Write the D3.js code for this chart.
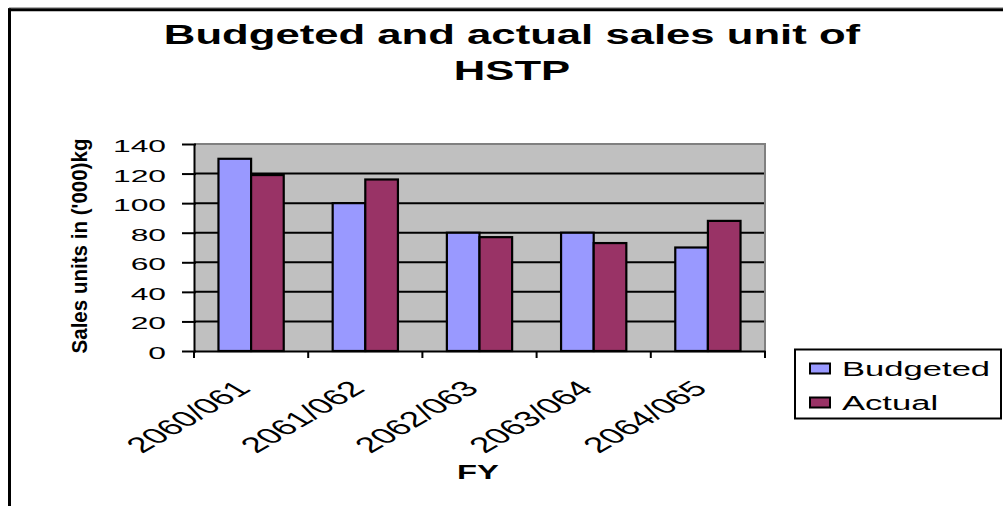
<!DOCTYPE html>
<html>
<head>
<meta charset="utf-8">
<script src="https://cdn.jsdelivr.net/npm/d3@7"></script>
<style>
  body { margin: 0; background: #ffffff; }
  svg { display: block; }
  text { font-family: "Liberation Sans", Arial, sans-serif; fill: #000; }
</style>
</head>
<body>
<svg id="chart" width="1003" height="506"></svg>
<script>
// Fiscal years and sales units ('000 kg)
const categories = ["2060/061", "2061/062", "2062/063", "2063/064", "2064/065"];
const budgeted = [130, 100, 80, 80, 70];
const actual = [119, 116, 77, 73, 88];
const seriesNames = ["Budgeted", "Actual"];
const seriesColors = ["#9999FF", "#993366"];
const yTicks = [0, 20, 40, 60, 80, 100, 120, 140];
const titleLines = ["Budgeted and actual sales unit of", "HSTP"];
const yTitle = "Sales units in ('000)kg";
const xTitle = "FY";

const svg = d3.select("#chart");

// plot frame
const plot = { left: 194, right: 765, top: 144, bottom: 351 };

const x = d3.scaleBand().domain(categories).range([plot.left, plot.right]).paddingInner(0).paddingOuter(0);
const xs = d3.scaleBand().domain(seriesNames).range([0, x.bandwidth()]).paddingInner(0).paddingOuter(0.75);
const y = d3.scaleLinear().domain([0, 140]).range([plot.bottom, plot.top]);
const color = d3.scaleOrdinal().domain(seriesNames).range(seriesColors);

// outer chart border (top and left edges)
svg.append("line").attr("x1", 9).attr("x2", 1003).attr("y1", 7.5).attr("y2", 7.5)
  .attr("stroke", "#b0b0b0").attr("stroke-width", 1);
svg.append("line").attr("x1", 8).attr("x2", 1003).attr("y1", 9.8).attr("y2", 9.8)
  .attr("stroke", "#000").attr("stroke-width", 3);
svg.append("line").attr("x1", 9.5).attr("x2", 9.5).attr("y1", 8.5).attr("y2", 506)
  .attr("stroke", "#000").attr("stroke-width", 3);

// title
const title = svg.append("g").attr("transform", "translate(512,0)");
title.selectAll("text").data(titleLines).join("text")
  .attr("transform", (d, i) => `translate(0,${44 + i * 36}) scale(1.56,1)`)
  .attr("text-anchor", "middle")
  .attr("font-size", 28)
  .attr("font-weight", "bold")
  .text(d => d);

// plot background
svg.append("rect")
  .attr("x", plot.left).attr("y", plot.top)
  .attr("width", plot.right - plot.left).attr("height", plot.bottom - plot.top)
  .attr("fill", "#C0C0C0");

// horizontal gridlines
svg.append("g").selectAll("line")
  .data(yTicks.filter(t => t > 0 && t < 140)).join("line")
  .attr("x1", plot.left).attr("x2", plot.right)
  .attr("y1", d => y(d)).attr("y2", d => y(d))
  .attr("stroke", "#000").attr("stroke-width", 2);

// grey plot border on top and right
svg.append("path")
  .attr("d", `M${plot.left},${y(140)}H${plot.right}V${plot.bottom}`)
  .attr("fill", "none").attr("stroke", "#808080").attr("stroke-width", 2);

// bars
const rows = categories.map((c, i) => ({ cat: c, values: [budgeted[i], actual[i]] }));
svg.append("g").selectAll("g").data(rows).join("g")
  .attr("transform", d => `translate(${x(d.cat)},0)`)
  .selectAll("rect")
  .data(d => seriesNames.map((s, j) => ({ series: s, value: d.values[j] })))
  .join("rect")
  .attr("x", d => xs(d.series))
  .attr("width", xs.bandwidth())
  .attr("y", d => y(d.value))
  .attr("height", d => y(0) - y(d.value))
  .attr("fill", d => color(d.series))
  .attr("stroke", "#000").attr("stroke-width", 2.2);

// y axis
const yAxis = svg.append("g")
  .attr("transform", `translate(${plot.left},0)`)
  .call(d3.axisLeft(y).tickValues(yTicks).tickSize(12).tickSizeOuter(0));
yAxis.select(".domain").attr("stroke", "#000").attr("stroke-width", 2);
yAxis.selectAll(".tick line").attr("stroke", "#000").attr("stroke-width", 2).attr("x2", -12).attr("x1", 2);
yAxis.selectAll(".tick text")
  .attr("x", 0).attr("dy", null)
  .attr("transform", "translate(-28,7.5) scale(1.87,1)")
  .attr("font-size", 17)
  .attr("font-family", "'Liberation Sans', Arial, sans-serif")
  .attr("fill", "#000");

// x axis: labels at category centres, tick marks at category boundaries
const xAxis = svg.append("g")
  .attr("transform", `translate(0,${plot.bottom})`)
  .call(d3.axisBottom(x).tickSize(0).tickSizeOuter(0));
xAxis.select(".domain").attr("stroke", "#000").attr("stroke-width", 2);
xAxis.selectAll(".tick text")
  .attr("x", 0).attr("y", 0).attr("dy", null)
  .attr("text-anchor", "end")
  .attr("transform", "translate(1,39) scale(1.72,1) rotate(-45)")
  .attr("font-size", 21.7)
  .attr("font-family", "'Liberation Sans', Arial, sans-serif")
  .attr("fill", "#000");
const boundaries = categories.map(c => x(c)).concat([x.range()[1]]);
xAxis.append("g").selectAll("line").data(boundaries).join("line")
  .attr("x1", d => d).attr("x2", d => d)
  .attr("y1", 0).attr("y2", 7)
  .attr("stroke", "#000").attr("stroke-width", 2);

// axis titles
svg.append("text")
  .attr("transform", "translate(87,246) rotate(-90)")
  .attr("text-anchor", "middle")
  .attr("font-size", 22)
  .attr("font-weight", "bold")
  .attr("textLength", 215).attr("lengthAdjust", "spacingAndGlyphs")
  .text(yTitle);

svg.append("text")
  .attr("transform", "translate(478,479) scale(1.64,1)")
  .attr("text-anchor", "middle")
  .attr("font-size", 20)
  .attr("font-weight", "bold")
  .text(xTitle);

// legend
const legend = svg.append("g");
legend.append("rect")
  .attr("x", 795).attr("y", 349.5).attr("width", 206).attr("height", 69)
  .attr("fill", "#fff").attr("stroke", "#000").attr("stroke-width", 2);
const items = legend.selectAll("g.item").data(seriesNames).join("g")
  .attr("class", "item")
  .attr("transform", (d, i) => `translate(0,${i * 34})`);
items.append("rect")
  .attr("x", 810).attr("y", 363.5).attr("width", 20).attr("height", 10)
  .attr("fill", d => color(d)).attr("stroke", "#000").attr("stroke-width", 2);
items.append("text")
  .attr("transform", "translate(842,376) scale(1.73,1)")
  .attr("font-size", 20)
  .text(d => d);
</script>
</body>
</html>
